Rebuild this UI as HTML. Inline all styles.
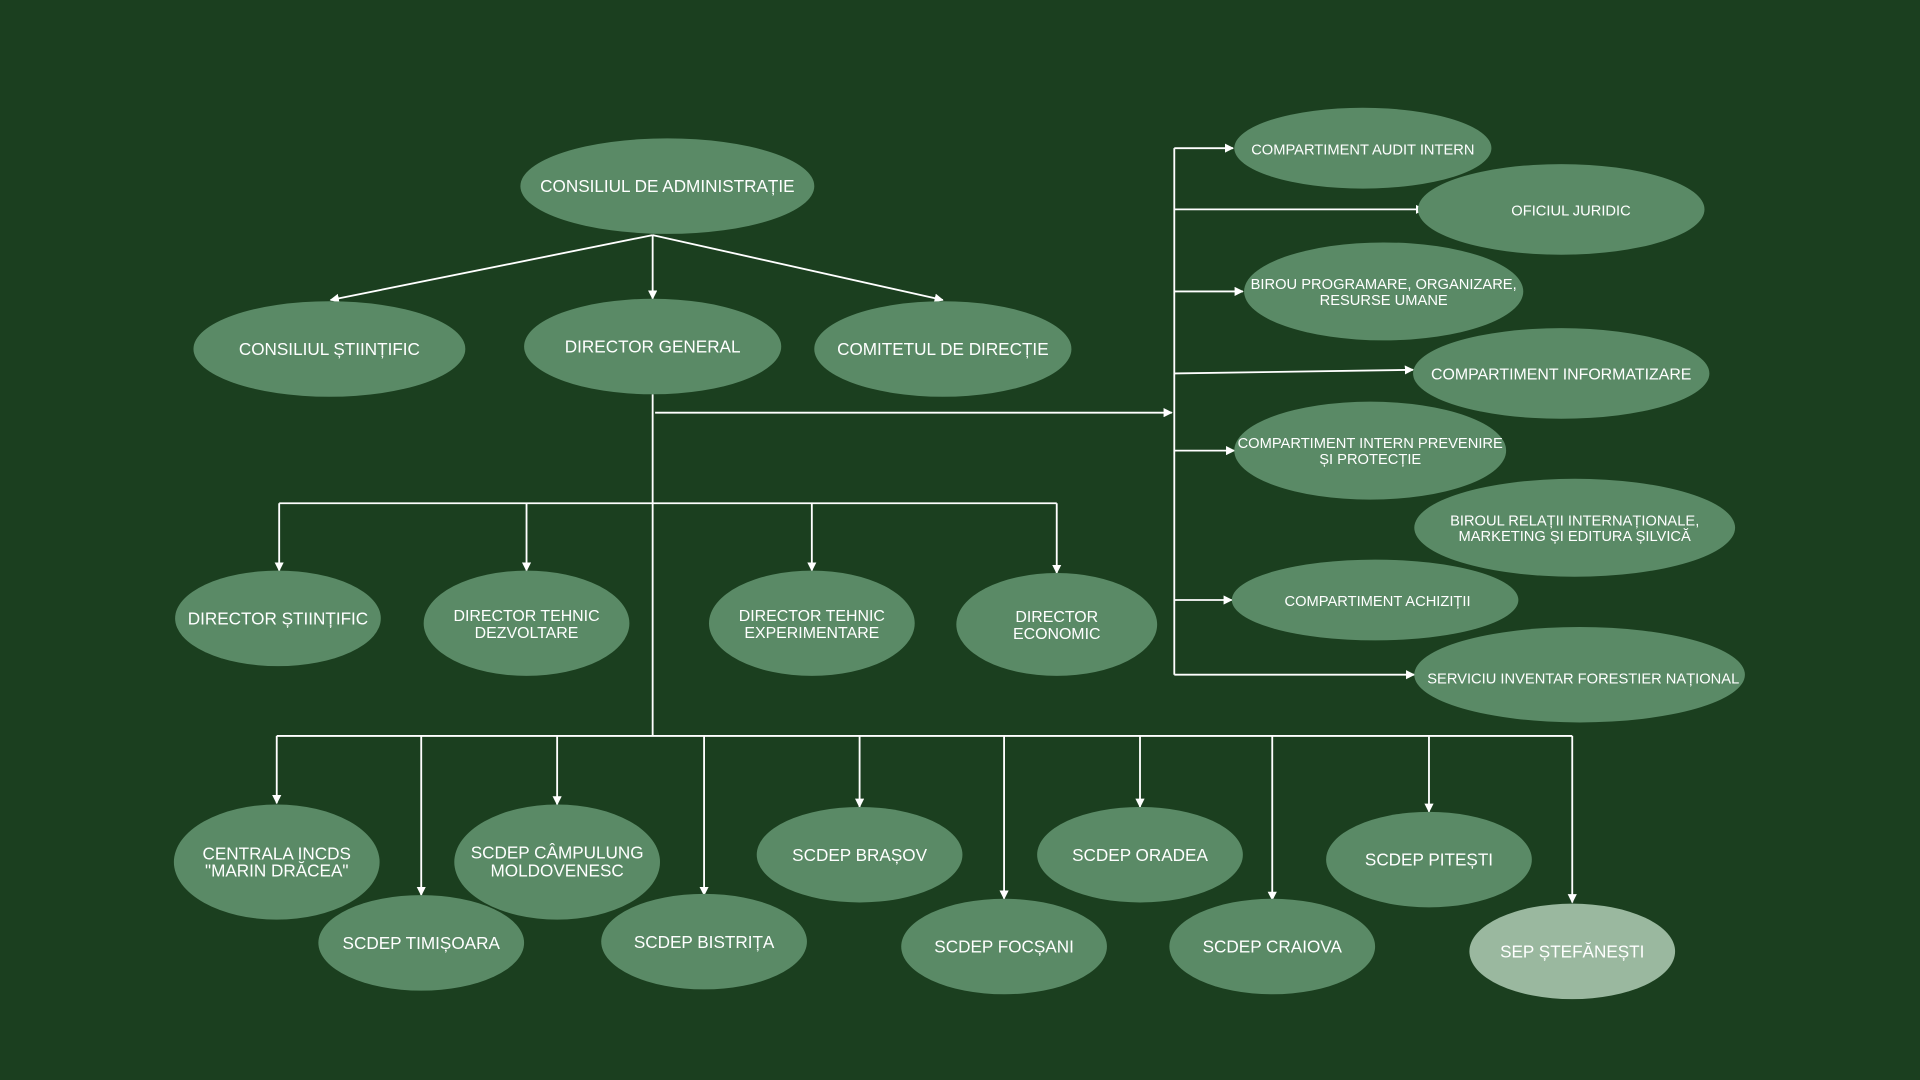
<!DOCTYPE html>
<html><head><meta charset="utf-8"><style>
html,body{margin:0;padding:0;background:#1b3f1f;}
svg{display:block}
text{font-family:"Liberation Sans",sans-serif;fill:#fff;text-anchor:middle;}
.e{fill:#5a8a66}
.l{stroke:#fff;stroke-width:1.5;fill:none}
</style></head><body>
<svg width="1920" height="1080" viewBox="0 0 1568 882" xmlns="http://www.w3.org/2000/svg">
<defs><marker id="a" viewBox="0 0 10 10" refX="9" refY="5" markerWidth="5" markerHeight="5" orient="auto"><path d="M0,0L10,5L0,10z" fill="#fff"/></marker></defs>
<rect width="1568" height="882" fill="#1b3f1f"/>
<g class="l" marker-end="url(#a)">
<line x1="533" y1="192" x2="270" y2="245"/>
<line x1="533" y1="192" x2="533" y2="244"/>
<line x1="533" y1="192" x2="770" y2="245"/>
<line x1="535" y1="337" x2="957" y2="337"/>
<line x1="959" y1="121" x2="1007" y2="121"/>
<line x1="959" y1="171" x2="1163" y2="171"/>
<line x1="959" y1="238" x2="1015" y2="238"/>
<line x1="959" y1="305" x2="1154" y2="302"/>
<line x1="959" y1="368" x2="1008" y2="368"/>
<line x1="959" y1="490" x2="1006" y2="490"/>
<line x1="959" y1="551" x2="1155" y2="551"/>
<line x1="228" y1="411" x2="228" y2="466"/>
<line x1="430" y1="411" x2="430" y2="466"/>
<line x1="663" y1="411" x2="663" y2="466"/>
<line x1="863" y1="411" x2="863" y2="468"/>
<line x1="226" y1="601" x2="226" y2="656"/>
<line x1="344" y1="601" x2="344" y2="731"/>
<line x1="455" y1="601" x2="455" y2="657"/>
<line x1="575" y1="601" x2="575" y2="731"/>
<line x1="702" y1="601" x2="702" y2="659"/>
<line x1="820" y1="601" x2="820" y2="734"/>
<line x1="931" y1="601" x2="931" y2="659"/>
<line x1="1039" y1="601" x2="1039" y2="735"/>
<line x1="1167" y1="601" x2="1167" y2="663"/>
<line x1="1284" y1="601" x2="1284" y2="737"/>
</g>
<g class="l">
<line x1="533" y1="322" x2="533" y2="601"/>
<line x1="959" y1="121" x2="959" y2="551"/>
<line x1="228" y1="411" x2="863" y2="411"/>
<line x1="226" y1="601" x2="1284" y2="601"/>
</g>
<g class="e">
<ellipse cx="545" cy="152" rx="120" ry="39"/>
<ellipse cx="269" cy="285" rx="111" ry="39"/>
<ellipse cx="533" cy="283" rx="105" ry="39"/>
<ellipse cx="770" cy="285" rx="105" ry="39"/>
<ellipse cx="227" cy="505" rx="84" ry="39"/>
<ellipse cx="430" cy="509" rx="84" ry="43"/>
<ellipse cx="663" cy="509" rx="84" ry="43"/>
<ellipse cx="863" cy="510" rx="82" ry="42"/>
<ellipse cx="226" cy="704" rx="84" ry="47"/>
<ellipse cx="344" cy="770" rx="84" ry="39"/>
<ellipse cx="455" cy="704" rx="84" ry="47"/>
<ellipse cx="575" cy="769" rx="84" ry="39"/>
<ellipse cx="702" cy="698" rx="84" ry="39"/>
<ellipse cx="820" cy="773" rx="84" ry="39"/>
<ellipse cx="931" cy="698" rx="84" ry="39"/>
<ellipse cx="1039" cy="773" rx="84" ry="39"/>
<ellipse cx="1167" cy="702" rx="84" ry="39"/>
<ellipse cx="1113" cy="121" rx="105" ry="33"/>
<ellipse cx="1275" cy="171" rx="117" ry="37"/>
<ellipse cx="1130" cy="238" rx="114" ry="40"/>
<ellipse cx="1275" cy="305" rx="121" ry="37"/>
<ellipse cx="1119" cy="368" rx="111" ry="40"/>
<ellipse cx="1286" cy="431" rx="131" ry="40"/>
<ellipse cx="1123" cy="490" rx="117" ry="33"/>
<ellipse cx="1290" cy="551" rx="135" ry="39"/>
</g>
<ellipse cx="1284" cy="777" rx="84" ry="39" fill="#9ab89f"/>
<g font-size="14">
<text x="545" y="157">CONSILIUL DE ADMINISTRAȚIE</text>
<text x="269" y="290">CONSILIUL ȘTIINȚIFIC</text>
<text x="533" y="288">DIRECTOR GENERAL</text>
<text x="770" y="290">COMITETUL DE DIRECȚIE</text>
<text x="227" y="510">DIRECTOR ȘTIINȚIFIC</text>
<text x="430" y="507" font-size="13">DIRECTOR TEHNIC</text><text x="430" y="521" font-size="13">DEZVOLTARE</text>
<text x="663" y="507" font-size="13">DIRECTOR TEHNIC</text><text x="663" y="521" font-size="13">EXPERIMENTARE</text>
<text x="863" y="508" font-size="13">DIRECTOR</text><text x="863" y="522" font-size="13">ECONOMIC</text>
<text x="226" y="702">CENTRALA INCDS</text><text x="226" y="716">"MARIN DRĂCEA"</text>
<text x="344" y="775">SCDEP TIMIȘOARA</text>
<text x="455" y="701">SCDEP CÂMPULUNG</text><text x="455" y="716">MOLDOVENESC</text>
<text x="575" y="774">SCDEP BISTRIȚA</text>
<text x="702" y="703">SCDEP BRAȘOV</text>
<text x="820" y="778">SCDEP FOCȘANI</text>
<text x="931" y="703">SCDEP ORADEA</text>
<text x="1039" y="778">SCDEP CRAIOVA</text>
<text x="1167" y="707">SCDEP PITEȘTI</text>
<text x="1284" y="782">SEP ȘTEFĂNEȘTI</text>
</g>
<g font-size="12">
<text x="1113" y="126">COMPARTIMENT AUDIT INTERN</text>
<text x="1283" y="176">OFICIUL JURIDIC</text>
<text x="1130" y="236">BIROU PROGRAMARE, ORGANIZARE,</text><text x="1130" y="249">RESURSE UMANE</text>
<text x="1275" y="310" font-size="13">COMPARTIMENT INFORMATIZARE</text>
<text x="1119" y="366">COMPARTIMENT INTERN PREVENIRE</text><text x="1119" y="379">ȘI PROTECȚIE</text>
<text x="1286" y="429">BIROUL RELAȚII INTERNAȚIONALE,</text><text x="1286" y="442">MARKETING ȘI EDITURA ȘILVICĂ</text>
<text x="1125" y="495">COMPARTIMENT ACHIZIȚII</text>
<text x="1293" y="558">SERVICIU INVENTAR FORESTIER NAȚIONAL</text>
</g>
</svg>
</body></html>
